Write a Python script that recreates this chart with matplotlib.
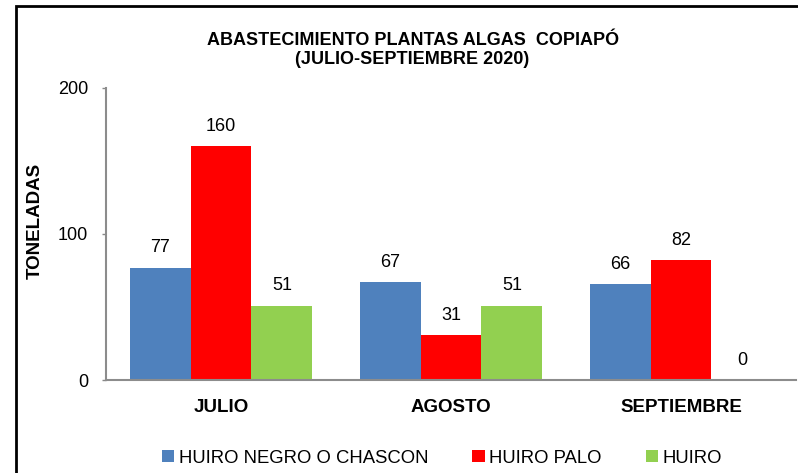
import matplotlib
matplotlib.use("Agg")

import numpy as np
import matplotlib.pyplot as plt
from matplotlib.patches import Rectangle

plt.rcParams["font.family"] = ["Liberation Sans", "DejaVu Sans"]

# datos (toneladas)
meses = ["JULIO", "AGOSTO", "SEPTIEMBRE"]
series = ["HUIRO NEGRO O CHASCON", "HUIRO PALO", "HUIRO"]
huiro_negro = [77, 67, 66]
huiro_palo = [160, 31, 82]
huiro = [51, 51, 0]
colores = ["#4F81BD", "#FF0000", "#92D050"]

fig = plt.figure(figsize=(7.98, 4.73), dpi=100)
ax = fig.add_axes([106 / 798, 1 - 380 / 473, 690 / 798, 292 / 473])

x = np.arange(len(meses))
w = 0.265
for i, (vals, nombre, c) in enumerate(zip([huiro_negro, huiro_palo, huiro], series, colores)):
    bars = ax.bar(x + (i - 1) * w, vals, w, color=c, label=nombre, zorder=2)
    for b, v in zip(bars, vals):
        ax.annotate(str(v), (b.get_x() + b.get_width() / 2, v), xytext=(0, 8),
                    textcoords="offset points", ha="center", va="bottom", fontsize=13)

ax.set_xlim(-0.5, 2.5)
ax.set_ylim(0, 200)
ax.set_yticks([0, 100, 200])
ax.set_xticks(x)
ax.set_xticklabels(meses, fontsize=13.5, fontweight="bold")
ax.tick_params(axis="x", length=0, pad=14)
ax.tick_params(axis="y", length=3, width=1, color="#888888", pad=10, labelsize=13)
for s in ["top", "right"]:
    ax.spines[s].set_visible(False)
for s in ["left", "bottom"]:
    ax.spines[s].set_color("#8c8c8c")
    ax.spines[s].set_linewidth(1.5)

fig.text(0.517, 1 - 50 / 473, "ABASTECIMIENTO PLANTAS ALGAS  COPIAPÓ\n(JULIO-SEPTIEMBRE 2020)",
         ha="center", va="center", fontsize=13, fontweight="bold", linespacing=1.12)
fig.text(35 / 798, 1 - 221 / 473, "TONELADAS", rotation=90, ha="center", va="center",
         fontsize=13.5, fontweight="bold")

fig.legend(loc="center", bbox_to_anchor=(0.554, 1 - 458 / 473), ncol=3, frameon=False,
           fontsize=13.3, handlelength=0.66, handleheight=0.66, handletextpad=0.25,
           columnspacing=2.4)

# marco del grafico
fig.add_artist(Rectangle((16 / 798, -0.1), 2, (467 / 473) + 0.1, transform=fig.transFigure,
                         fill=False, edgecolor="black", linewidth=2))

fig.savefig("out.png", dpi=100)
